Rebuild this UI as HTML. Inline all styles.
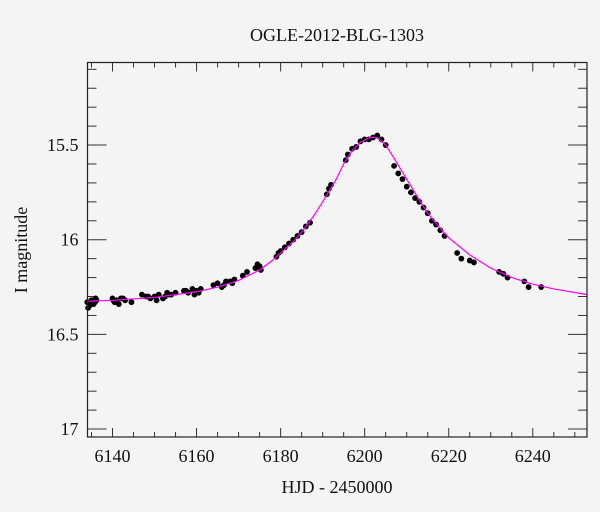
<!DOCTYPE html>
<html><head><meta charset="utf-8"><style>
html,body{margin:0;padding:0;background:#f4f4f4;}
svg{display:block;font-family:"Liberation Serif",serif;}
</style></head><body>
<svg id="chart" width="600" height="512">
<rect x="0" y="0" width="600" height="512" fill="#f4f4f4"/>
<text x="337" y="41" font-size="18" text-anchor="middle" fill="#111">OGLE-2012-BLG-1303</text>
<text x="337" y="493" font-size="18" text-anchor="middle" fill="#111">HJD - 2450000</text>
<text transform="translate(27,250) rotate(-90)" font-size="18" text-anchor="middle" fill="#111">I magnitude</text>
<g id="ticks"></g>
<g id="marks"></g>
<rect x="87.5" y="62.5" width="499.5" height="374.5" fill="none" stroke="#222" stroke-width="1.2"/>
</svg>
<script>
const xTickLabels = [6140, 6160, 6180, 6200, 6220, 6240];
const yTickLabels = [15.5, 16, 16.5, 17];
const modelT = [6134, 6140, 6150, 6160, 6165, 6170, 6175, 6178, 6180, 6183, 6185, 6188, 6190, 6193, 6195, 6197, 6199, 6201, 6202, 6203, 6205, 6207, 6210, 6213, 6215, 6218, 6220, 6225, 6230, 6235, 6240, 6245, 6253];
const modelMag = [16.325, 16.32, 16.305, 16.275, 16.25, 16.215, 16.16, 16.11, 16.07, 16.01, 15.96, 15.87, 15.80, 15.69, 15.60, 15.53, 15.485, 15.462, 15.458, 15.462, 15.50, 15.57, 15.68, 15.79, 15.86, 15.94, 15.99, 16.08, 16.15, 16.20, 16.235, 16.26, 16.29];
const dataT = [6134,6134.5,6135,6135.5,6136,6134.2,6135.2,6136.2,6134.8,6135.8,6140,6140.5,6141,6142,6143,6141.5,6144.5,6140.2,6142.5,6147,6148,6149,6150,6151,6152,6153,6154,6155,6150.5,6152.5,6148.5,6153.5,6157,6158,6159,6160,6161,6159.5,6157.5,6160.5,6164,6165,6166,6167,6168,6169,6166.5,6168.5,6171,6172,6174,6175,6174.5,6175.3,6179,6179.5,6180,6181,6182,6183,6184,6185,6186,6187,6191,6191.5,6192,6195.5,6196,6197,6198,6199,6200,6201,6202,6203,6204,6205,6207,6208,6209,6210,6211,6212,6213,6214,6215,6216,6217,6218,6219,6222,6223,6225,6226,6232,6233,6234,6238,6239,6242];
const dataMag = [16.33,16.35,16.32,16.34,16.31,16.36,16.33,16.32,16.34,16.33,16.31,16.33,16.32,16.31,16.32,16.34,16.33,16.32,16.31,16.29,16.30,16.31,16.30,16.29,16.31,16.28,16.29,16.28,16.32,16.30,16.30,16.29,16.27,16.28,16.26,16.27,16.26,16.29,16.27,16.28,16.24,16.23,16.25,16.22,16.22,16.21,16.24,16.23,16.19,16.17,16.15,16.14,16.13,16.16,16.09,16.07,16.06,16.04,16.02,16.00,15.98,15.96,15.93,15.91,15.76,15.73,15.71,15.58,15.55,15.52,15.51,15.48,15.47,15.47,15.46,15.45,15.47,15.50,15.61,15.65,15.68,15.72,15.75,15.78,15.80,15.83,15.86,15.90,15.92,15.95,15.98,16.07,16.10,16.11,16.12,16.17,16.18,16.20,16.22,16.25,16.25];

const X0 = 87.5, X1 = 587, Y0 = 62.5, Y1 = 437;
const tMin = 6134.05, tMax = 6252.9, mMin = 15.064, mMax = 17.042;
function xs(t){ return X0 + (t - tMin) / (tMax - tMin) * (X1 - X0); }
function ys(m){ return Y0 + (m - mMin) / (mMax - mMin) * (Y1 - Y0); }
const NS = 'http://www.w3.org/2000/svg';
const tg = document.getElementById('ticks');
const mg = document.getElementById('marks');
function line(g, x1, y1, x2, y2, name){
  const l = document.createElementNS(NS, 'line');
  l.setAttribute('x1', x1); l.setAttribute('y1', y1); l.setAttribute('x2', x2); l.setAttribute('y2', y2);
  l.setAttribute('stroke', '#333'); l.setAttribute('stroke-width', '1');
  
  
  g.appendChild(l);
}
for (let t = 6135; t <= 6252; t += 5) {
  const major = (t % 20 === 0);
  const len = major ? 9 : 5;
  const x = xs(t);
  line(tg, x, Y1, x, Y1 - len, 'x-tick');
  line(tg, x, Y0, x, Y0 + len, 'x-tick');
}
for (let i = 11; i <= 170; i++) {
  const m = i / 10;
  if (m < mMin || m > mMax) continue;
  const major = (i % 5 === 0);
  const len = major ? 19 : 9;
  const y = ys(m);
  line(tg, X0, y, X0 + len, y, 'y-tick');
  line(tg, X1, y, X1 - len, y, 'y-tick');
}
xTickLabels.forEach(v => {
  const tx = document.createElementNS(NS, 'text');
  tx.setAttribute('x', xs(v)); tx.setAttribute('y', Y1 + 25);
  tx.setAttribute('font-size', '18'); tx.setAttribute('text-anchor', 'middle'); tx.setAttribute('fill', '#111');
  
  
  tx.textContent = v;
  tg.appendChild(tx);
});
yTickLabels.forEach(v => {
  const tx = document.createElementNS(NS, 'text');
  tx.setAttribute('x', X0 - 9); tx.setAttribute('y', ys(v) + 6);
  tx.setAttribute('font-size', '18'); tx.setAttribute('text-anchor', 'end'); tx.setAttribute('fill', '#111');
  
  
  tx.textContent = v;
  tg.appendChild(tx);
});
dataT.forEach((t, i) => {
  const c = document.createElementNS(NS, 'circle');
  c.setAttribute('cx', xs(t)); c.setAttribute('cy', ys(dataMag[i])); c.setAttribute('r', '2.9');
  c.setAttribute('fill', '#000');
  
  
  mg.appendChild(c);
});
const p = document.createElementNS(NS, 'path');
let d = '';
modelT.forEach((t, i) => { d += (i ? 'L' : 'M') + xs(t).toFixed(2) + ',' + ys(modelMag[i]).toFixed(2); });
p.setAttribute('d', d);
p.setAttribute('fill', 'none'); p.setAttribute('stroke', '#ff00ff'); p.setAttribute('stroke-width', '1.2');
p.setAttribute('stroke-linejoin', 'round');


mg.appendChild(p);
</script>
</body></html>
